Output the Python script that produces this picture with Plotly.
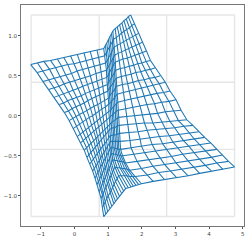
import plotly.graph_objects as go

GRID_X = [-1.29, 0.735, 2.74, 4.76]
GRID_Y = [-1.26, -0.42, 0.42, 1.26]
TICK_X = [-1, 0, 1, 2, 3, 4, 5]
TICK_Y = [-1.0, -0.5, 0.0, 0.5, 1.0]
TICK_Y_TEXT = ["\u22121.0", "\u22120.5", "0.0", "0.5", "1.0"]
TICK_X_TEXT = ["\u22121", "0", "1", "2", "3", "4", "5"]

MESH_X = [
[-1.30,-1.10,-.91,-.71,-.51,-.32,-.12,.08,.28,.47,.67,.87,.92,.96,1.01,1.05,1.10,1.14,1.21,1.27,1.34,1.41,1.47,1.54,1.60,1.67],
[-1.11,-.93,-.74,-.56,-.38,-.20,-.01,.17,.35,.54,.72,.90,.95,.99,1.04,1.08,1.13,1.17,1.25,1.33,1.40,1.48,1.56,1.64,1.71,1.79],
[-.94,-.77,-.60,-.43,-.26,-.09,.08,.25,.42,.59,.76,.93,.97,1.01,1.06,1.10,1.14,1.18,1.27,1.36,1.45,1.54,1.63,1.72,1.81,1.90],
[-.77,-.61,-.46,-.30,-.14,.01,.17,.32,.48,.64,.79,.95,.99,1.03,1.08,1.12,1.16,1.20,1.30,1.41,1.51,1.61,1.71,1.82,1.92,2.02],
[-.61,-.47,-.32,-.18,-.04,.10,.25,.39,.53,.67,.82,.96,1.00,1.04,1.09,1.13,1.17,1.21,1.33,1.44,1.56,1.68,1.79,1.91,2.02,2.14],
[-.45,-.32,-.19,-.06,.07,.20,.33,.46,.59,.72,.85,.98,1.02,1.06,1.11,1.15,1.19,1.23,1.36,1.49,1.62,1.75,1.87,2.00,2.13,2.26],
[-.30,-.18,-.07,.05,.17,.29,.40,.52,.64,.75,.87,.99,1.03,1.07,1.12,1.16,1.20,1.24,1.39,1.53,1.68,1.82,1.97,2.11,2.26,2.40],
[-.16,-.05,.05,.16,.26,.37,.48,.58,.69,.80,.90,1.01,1.05,1.09,1.14,1.18,1.22,1.26,1.42,1.58,1.74,1.90,2.07,2.23,2.39,2.55],
[-.04,.06,.15,.25,.35,.44,.54,.63,.73,.83,.92,1.02,1.06,1.10,1.15,1.19,1.23,1.27,1.45,1.63,1.81,1.99,2.16,2.34,2.52,2.70],
[.08,.17,.25,.34,.42,.51,.59,.68,.76,.85,.94,1.02,1.07,1.11,1.16,1.20,1.25,1.29,1.48,1.68,1.87,2.07,2.26,2.45,2.65,2.84],
[.18,.26,.34,.41,.49,.57,.65,.73,.81,.88,.96,1.04,1.08,1.13,1.17,1.21,1.26,1.30,1.52,1.73,1.95,2.16,2.38,2.59,2.81,3.02],
[.29,.36,.43,.50,.57,.64,.70,.77,.84,.91,.98,1.05,1.09,1.14,1.18,1.22,1.27,1.31,1.54,1.78,2.01,2.24,2.47,2.70,2.94,3.17],
[.37,.43,.49,.56,.62,.68,.74,.80,.86,.93,.99,1.05,1.10,1.14,1.19,1.24,1.28,1.33,1.58,1.83,2.08,2.33,2.59,2.84,3.09,3.34],
[.46,.51,.57,.62,.68,.73,.79,.84,.90,.95,1.01,1.06,1.11,1.15,1.20,1.25,1.29,1.34,1.61,1.89,2.16,2.43,2.70,2.98,3.25,3.52],
[.54,.59,.64,.69,.74,.79,.83,.88,.93,.98,1.03,1.08,1.13,1.17,1.22,1.27,1.31,1.36,1.65,1.95,2.24,2.53,2.82,3.12,3.41,3.70],
[.61,.65,.70,.74,.78,.83,.87,.92,.96,1.00,1.05,1.09,1.14,1.18,1.23,1.28,1.32,1.37,1.68,1.99,2.31,2.62,2.93,3.24,3.56,3.87],
[.67,.71,.75,.79,.83,.87,.91,.95,.99,1.03,1.07,1.11,1.16,1.22,1.27,1.32,1.38,1.43,1.76,2.08,2.41,2.74,3.07,3.40,3.72,4.05],
[.73,.77,.80,.84,.88,.92,.95,.99,1.03,1.07,1.10,1.14,1.20,1.27,1.33,1.39,1.46,1.52,1.86,2.20,2.54,2.88,3.21,3.55,3.89,4.23],
[.79,.83,.86,.90,.94,.98,1.01,1.05,1.09,1.13,1.16,1.20,1.27,1.35,1.42,1.49,1.57,1.64,1.99,2.33,2.68,3.02,3.37,3.71,4.06,4.40],
[.83,.87,.92,.96,1.00,1.05,1.09,1.14,1.18,1.22,1.27,1.31,1.39,1.48,1.56,1.64,1.73,1.81,2.16,2.50,2.85,3.19,3.54,3.89,4.23,4.58],
[.87,.93,.99,1.05,1.11,1.17,1.22,1.28,1.34,1.40,1.46,1.52,1.60,1.68,1.75,1.83,1.91,1.99,2.34,2.68,3.03,3.38,3.72,4.07,4.41,4.76],
]

MESH_Y = [
[.64,.66,.68,.69,.71,.73,.75,.77,.79,.80,.82,.84,.88,.91,.95,.99,1.02,1.06,1.09,1.11,1.14,1.16,1.19,1.21,1.24,1.26],
[.54,.56,.58,.60,.62,.64,.65,.67,.69,.71,.73,.75,.79,.82,.86,.89,.93,.96,.98,1.01,1.03,1.06,1.08,1.10,1.13,1.15],
[.43,.45,.47,.49,.51,.53,.56,.58,.60,.62,.64,.66,.69,.73,.76,.79,.83,.86,.88,.90,.92,.95,.97,.99,1.01,1.03],
[.33,.35,.37,.40,.42,.44,.46,.48,.50,.53,.55,.57,.60,.63,.67,.70,.73,.76,.78,.80,.82,.84,.86,.88,.90,.92],
[.23,.25,.28,.30,.32,.34,.37,.39,.41,.43,.46,.48,.51,.54,.58,.61,.64,.67,.69,.71,.72,.74,.76,.78,.79,.81],
[.14,.16,.19,.21,.23,.25,.28,.30,.32,.34,.37,.39,.42,.45,.48,.51,.54,.57,.59,.60,.62,.63,.65,.66,.68,.69],
[.04,.06,.09,.11,.14,.16,.19,.21,.24,.26,.29,.31,.34,.36,.39,.42,.44,.47,.49,.50,.52,.54,.55,.57,.58,.60],
[-.06,-.03,-.01,.02,.04,.07,.09,.12,.14,.17,.19,.22,.25,.27,.30,.32,.35,.37,.39,.40,.42,.44,.45,.47,.48,.50],
[-.16,-.13,-.11,-.08,-.05,-.02,.00,.03,.06,.09,.11,.14,.16,.18,.21,.23,.25,.27,.29,.31,.33,.35,.36,.38,.40,.42],
[-.26,-.23,-.20,-.18,-.15,-.12,-.09,-.06,-.03,-.01,.02,.05,.07,.09,.11,.13,.15,.17,.19,.21,.22,.24,.26,.28,.29,.31],
[-.34,-.31,-.28,-.25,-.22,-.19,-.17,-.14,-.11,-.08,-.05,-.02,-.01,.01,.03,.04,.06,.07,.09,.10,.12,.14,.15,.17,.18,.20],
[-.43,-.40,-.37,-.34,-.31,-.28,-.25,-.22,-.19,-.16,-.13,-.10,-.09,-.07,-.06,-.05,-.03,-.02,-.01,.00,.01,.02,.03,.05,.06,.07],
[-.52,-.49,-.46,-.42,-.39,-.36,-.33,-.30,-.27,-.23,-.20,-.17,-.16,-.15,-.15,-.14,-.13,-.12,-.11,-.10,-.09,-.09,-.08,-.07,-.06,-.05],
[-.60,-.57,-.54,-.50,-.47,-.44,-.41,-.38,-.35,-.31,-.28,-.25,-.24,-.24,-.24,-.23,-.23,-.22,-.21,-.20,-.18,-.17,-.16,-.15,-.13,-.12],
[-.69,-.66,-.62,-.59,-.56,-.52,-.49,-.45,-.42,-.39,-.35,-.32,-.32,-.32,-.32,-.32,-.32,-.32,-.31,-.29,-.28,-.26,-.25,-.23,-.22,-.20],
[-.78,-.74,-.71,-.67,-.64,-.60,-.57,-.53,-.50,-.46,-.43,-.39,-.40,-.40,-.41,-.41,-.42,-.42,-.40,-.38,-.36,-.35,-.33,-.31,-.29,-.27],
[-.86,-.82,-.79,-.75,-.72,-.68,-.65,-.61,-.58,-.54,-.51,-.47,-.48,-.48,-.49,-.49,-.50,-.50,-.48,-.46,-.44,-.42,-.40,-.38,-.36,-.34],
[-.95,-.91,-.88,-.84,-.80,-.77,-.73,-.70,-.66,-.62,-.59,-.55,-.56,-.56,-.57,-.57,-.58,-.59,-.57,-.55,-.53,-.51,-.48,-.46,-.44,-.42],
[-1.03,-.99,-.96,-.92,-.89,-.85,-.82,-.78,-.75,-.71,-.68,-.64,-.65,-.65,-.66,-.66,-.67,-.68,-.66,-.63,-.61,-.59,-.56,-.54,-.52,-.49],
[-1.15,-1.11,-1.08,-1.04,-1.00,-.97,-.93,-.90,-.86,-.82,-.79,-.75,-.75,-.75,-.75,-.76,-.76,-.76,-.74,-.71,-.69,-.67,-.64,-.62,-.59,-.57],
[-1.26,-1.23,-1.20,-1.16,-1.13,-1.10,-1.07,-1.04,-1.01,-.97,-.94,-.91,-.90,-.89,-.88,-.87,-.86,-.85,-.82,-.80,-.77,-.75,-.72,-.69,-.67,-.64],
]

fig = go.Figure()

# light gray reference lattice
gx, gy = [], []
for v in GRID_X:
    gx += [v, v, None]
    gy += [GRID_Y[0], GRID_Y[-1], None]
for v in GRID_Y:
    gx += [GRID_X[0], GRID_X[-1], None]
    gy += [v, v, None]
fig.add_trace(go.Scatter(x=gx, y=gy, mode="lines", line=dict(color="#e6e6e6", width=1.4), hoverinfo="skip"))

# warped mesh: rows and columns of the same node tables
mx, my = [], []
for rx, ry in zip(MESH_X, MESH_Y):
    mx += list(rx) + [None]
    my += list(ry) + [None]
for j in range(len(MESH_X[0])):
    mx += [r[j] for r in MESH_X] + [None]
    my += [r[j] for r in MESH_Y] + [None]
fig.add_trace(go.Scatter(x=mx, y=my, mode="lines", line=dict(color="#1f77b4", width=1.05), hoverinfo="skip"))

axis_style = dict(showgrid=False, zeroline=False, showline=True, mirror=True,
                  linecolor="#777777", linewidth=1, ticks="outside", ticklen=2,
                  tickwidth=0.7, tickcolor="#555555",
                  tickfont=dict(family="DejaVu Sans", size=5.5, color="#444444"))
fig.update_layout(
    width=249, height=241, showlegend=False,
    margin=dict(l=19.5, r=4, t=4, b=13),
    paper_bgcolor="white", plot_bgcolor="white",
    xaxis=dict(range=[-1.59, 5.04], tickvals=TICK_X, ticktext=TICK_X_TEXT, **axis_style),
    yaxis=dict(range=[-1.378, 1.385], tickvals=TICK_Y, ticktext=TICK_Y_TEXT, **axis_style),
)
fig.write_html("out.html", config={"displayModeBar": False},
               post_script="document.body.style.margin='0';document.documentElement.style.overflow='hidden';")
